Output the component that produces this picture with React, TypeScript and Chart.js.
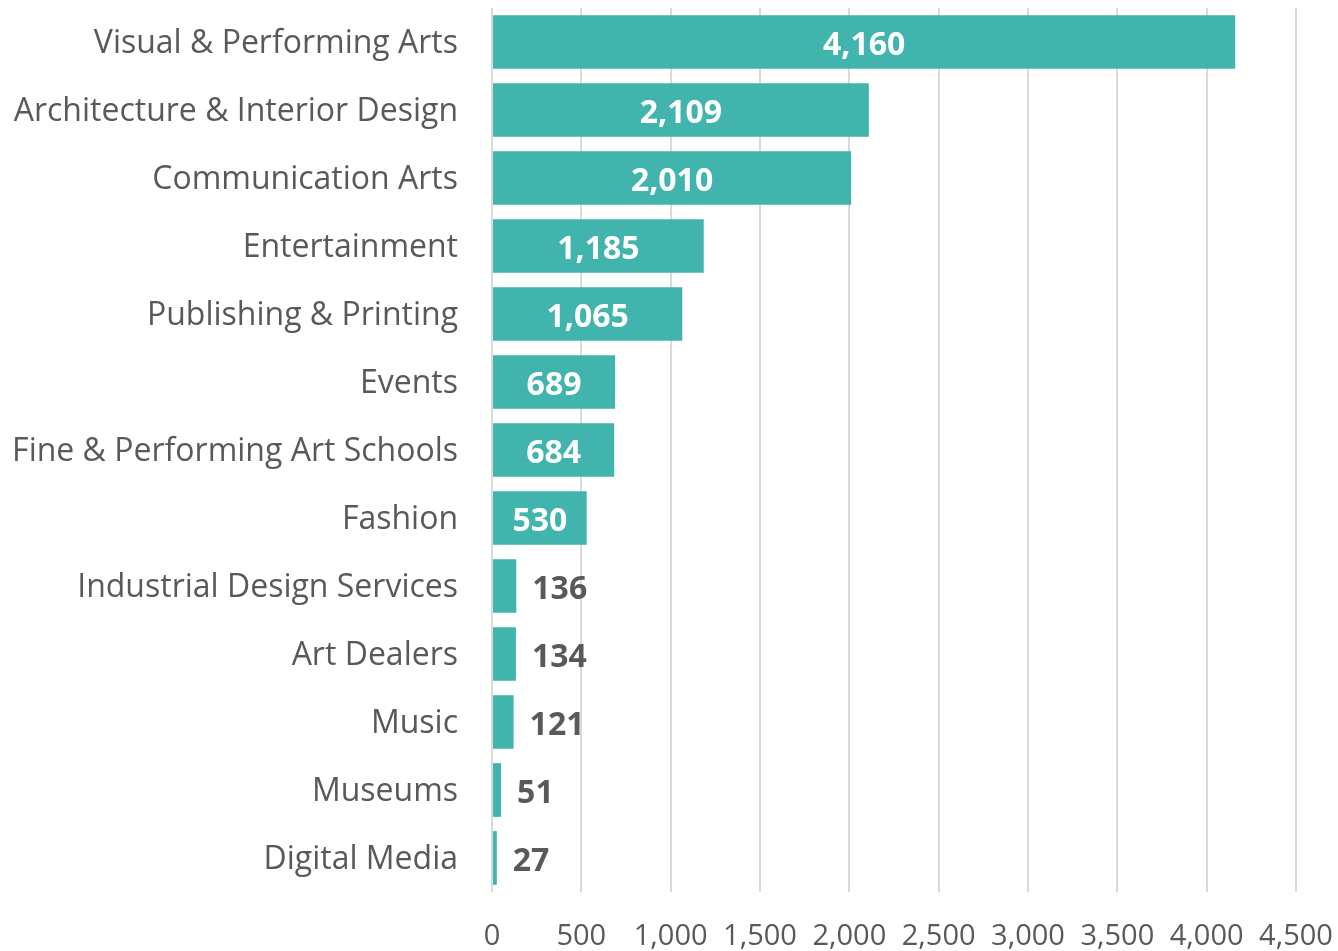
import React, { useEffect, useRef } from "react";
import { Chart, registerables } from "chart.js";

Chart.register(...registerables);

const categories = [
  "Visual & Performing Arts",
  "Architecture & Interior Design",
  "Communication Arts",
  "Entertainment",
  "Publishing & Printing",
  "Events",
  "Fine & Performing Art Schools",
  "Fashion",
  "Industrial Design Services",
  "Art Dealers",
  "Music",
  "Museums",
  "Digital Media",
];
const values = [4160, 2109, 2010, 1185, 1065, 689, 684, 530, 136, 134, 121, 51, 27];
const xTicks = [0, 500, 1000, 1500, 2000, 2500, 3000, 3500, 4000, 4500];

const FONT = "'Open Sans', 'Noto Sans', sans-serif";
const fmt = (v: number) => v.toLocaleString("en-US");

const labelPlugin = {
  id: "valueLabels",
  afterDatasetsDraw(chart: any) {
    const ctx = chart.ctx;
    const meta = chart.getDatasetMeta(0);
    ctx.save();
    ctx.font = `bold 32px ${FONT}`;
    ctx.textBaseline = "middle";
    meta.data.forEach((bar: any, i: number) => {
      const v = values[i];
      const text = fmt(v);
      const w = ctx.measureText(text).width;
      const barW = bar.x - bar.base;
      if (barW > w + 10) {
        ctx.fillStyle = "#ffffff";
        ctx.textAlign = "center";
        ctx.fillText(text, (bar.x + bar.base) / 2, bar.y + 4);
      } else {
        ctx.fillStyle = "#595959";
        ctx.textAlign = "left";
        ctx.fillText(text, bar.x + 16, bar.y + 4);
      }
    });
    ctx.restore();
  },
};

export default function App() {
  const ref = useRef<HTMLCanvasElement>(null);
  useEffect(() => {
    document.body.style.margin = "0";
    const chart = new Chart(ref.current!, {
      type: "bar",
      data: {
        labels: categories,
        datasets: [
          {
            data: values,
            backgroundColor: "#40b4ad",
            barPercentage: 0.79,
            categoryPercentage: 1,
          },
        ],
      },
      options: {
        indexAxis: "y",
        animation: false,
        responsive: false,
        layout: { padding: { top: 8, right: 42, left: 0, bottom: 0 } },
        plugins: { legend: { display: false }, tooltip: { enabled: false } },
        scales: {
          x: {
            min: 0,
            max: 4500,
            afterBuildTicks: (axis: any) => {
              axis.ticks = xTicks.map((v) => ({ value: v }));
            },
            afterFit: (axis: any) => {
              axis.paddingLeft = 0;
              axis.paddingRight = 0;
              axis.height = 59;
            },
            grid: { color: "#d9d9d9", lineWidth: 2, drawTicks: false },
            border: { display: false },
            ticks: {
              padding: 27,
              maxRotation: 0,
              color: "#595959",
              font: { family: FONT, size: 29 },
              callback: (v: any) => fmt(Number(v)),
            },
          },
          y: {
            afterFit: (axis: any) => {
              axis.width = 492;
              axis.paddingTop = 0;
              axis.paddingBottom = 0;
            },
            grid: { display: false, drawTicks: false },
            border: { display: false },
            ticks: {
              padding: 34,
              labelOffset: 2,
              color: "#595959",
              font: { family: FONT, size: 32 },
            },
          },
        },
      },
      plugins: [labelPlugin],
    });
    return () => chart.destroy();
  }, []);
  return (
    <div style={{ width: 1338, height: 951 }}>
      <canvas ref={ref} width={1338} height={951} style={{ display: "block" }} />
    </div>
  );
}
